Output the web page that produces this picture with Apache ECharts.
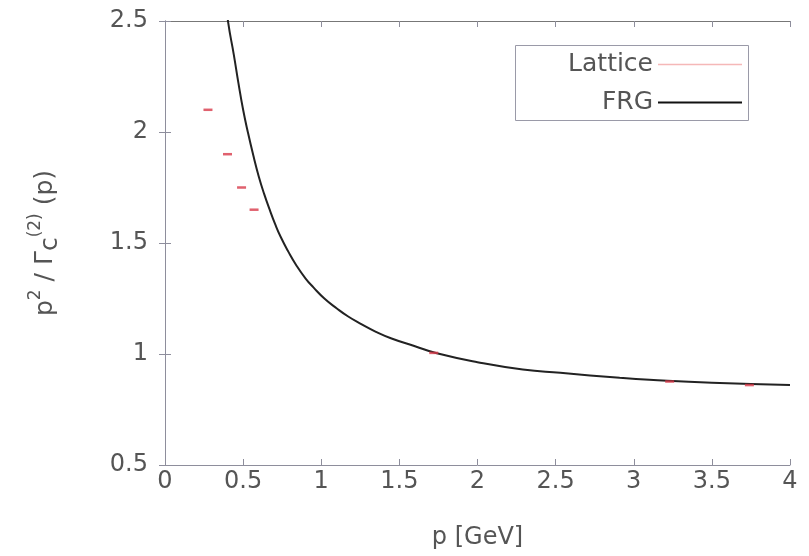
<!DOCTYPE html>
<html>
<head>
<meta charset="utf-8">
<script src="https://cdn.jsdelivr.net/npm/echarts@6/dist/echarts.min.js"></script>
<style>
  html, body { margin: 0; padding: 0; background: #fff; }
  #chart { width: 809px; height: 556px; }
</style>
</head>
<body>
<div id="chart"></div>
<script>
// Momentum grid and FRG ghost dressing function
const frgP = [0.39, 0.405, 0.44, 0.47, 0.50, 0.53, 0.565, 0.60, 0.635, 0.67, 0.705, 0.74, 0.79, 0.84, 0.90, 0.95, 1.02, 1.10, 1.17, 1.25, 1.35, 1.45, 1.60, 1.74, 2.00, 2.29, 2.53, 2.91, 3.10, 3.50, 4.00];
const frgV = [2.59, 2.49, 2.35, 2.22, 2.10, 2.00, 1.895, 1.80, 1.72, 1.65, 1.585, 1.528, 1.46, 1.40, 1.34, 1.30, 1.25, 1.205, 1.17, 1.137, 1.10, 1.07, 1.035, 1.003, 0.963, 0.930, 0.915, 0.893, 0.884, 0.870, 0.860];

// Lattice data points
const latP = [0.275, 0.40, 0.49, 0.57, 1.72, 3.23, 3.74];
const latV = [2.10, 1.90, 1.75, 1.65, 1.005, 0.876, 0.860];

const xTicks = { min: 0, max: 4, interval: 0.5 };
const yTicks = { min: 0.5, max: 2.5, interval: 0.5 };

const pair = (xs, ys) => xs.map((x, i) => [x, ys[i]]);

const FONT = '"DejaVu Sans", sans-serif';
const FS = 24;
const TXT = '#555';
const FRAME = '#8e8e9c';

const chart = echarts.init(document.getElementById('chart'), null, { renderer: 'canvas' });

const tickStyle = { show: true, inside: true, length: 6, lineStyle: { color: FRAME } };

chart.setOption({
  backgroundColor: '#fff',
  animation: false,
  grid: { left: 165, right: 19, top: 21, bottom: 91 },
  graphic: [
    {
      // legend frame
      type: 'rect',
      shape: { x: 515.5, y: 45.5, width: 233, height: 75 },
      style: { fill: '#fff', stroke: '#9a9aa8', lineWidth: 1 },
      z: 10
    }
  ],
  legend: {
    right: 67,
    top: 52,
    orient: 'vertical',
    align: 'right',
    padding: 0,
    itemGap: 13,
    itemWidth: 84,
    itemHeight: 12,
    z: 20,
    textStyle: { fontFamily: FONT, fontSize: 25, color: TXT },
    data: [
      { name: 'Lattice', icon: 'path://M0,5 L84,5 L84,6.6 L0,6.6 Z', itemStyle: { color: '#f2a6a6' } },
      { name: 'FRG', icon: 'path://M0,5 L84,5 L84,7.2 L0,7.2 Z', itemStyle: { color: '#111' } }
    ]
  },
  xAxis: [
    {
      type: 'value', position: 'bottom',
      min: xTicks.min, max: xTicks.max, interval: xTicks.interval,
      name: 'p [GeV]', nameLocation: 'middle', nameGap: 61,
      nameTextStyle: { fontFamily: FONT, fontSize: FS, color: TXT },
      axisLine: { show: true, lineStyle: { color: FRAME } },
      axisTick: tickStyle,
      axisLabel: { fontFamily: FONT, fontSize: FS, color: TXT, margin: 5 },
      splitLine: { show: false }
    },
    {
      type: 'value', position: 'top',
      min: xTicks.min, max: xTicks.max, interval: xTicks.interval,
      axisLine: { show: true, lineStyle: { color: '#777' } },
      axisTick: tickStyle,
      axisLabel: { show: false },
      splitLine: { show: false }
    }
  ],
  yAxis: [
    {
      type: 'value', position: 'left',
      min: yTicks.min, max: yTicks.max, interval: yTicks.interval,
      name: '{b|p}{s|2}{b| / Γ}{c|c}{s|(2)}{b| (p)}',
      nameLocation: 'middle', nameGap: 102,
      nameTextStyle: {
        fontFamily: FONT, fontSize: FS, color: TXT,
        rich: {
          b: { fontFamily: FONT, fontSize: 25, color: TXT, lineHeight: 36, verticalAlign: 'middle' },
          s: { fontFamily: FONT, fontSize: 17, color: TXT, lineHeight: 17, verticalAlign: 'top' },
          c: { fontFamily: FONT, fontSize: 25, color: TXT, lineHeight: 32, verticalAlign: 'bottom' }
        }
      },
      axisLine: { show: true, lineStyle: { color: FRAME } },
      axisTick: tickStyle,
      axisLabel: { fontFamily: FONT, fontSize: FS, color: TXT, margin: 17 },
      splitLine: { show: false }
    },
    {
      type: 'value', position: 'right',
      min: yTicks.min, max: yTicks.max, interval: yTicks.interval,
      axisLine: { show: true, lineStyle: { color: FRAME } },
      axisTick: tickStyle,
      axisLabel: { show: false },
      splitLine: { show: false }
    }
  ],
  series: [
    {
      name: 'Lattice',
      type: 'line',
      xAxisIndex: 0, yAxisIndex: 0,
      data: pair(latP, latV),
      lineStyle: { opacity: 0 },
      symbol: 'rect',
      symbolSize: [9, 2.5],
      itemStyle: { color: '#d83a4a', opacity: 0.8 },
      z: 3
    },
    {
      name: 'FRG',
      type: 'line',
      xAxisIndex: 0, yAxisIndex: 0,
      data: pair(frgP, frgV),
      smooth: 0.5,
      showSymbol: false,
      symbol: 'none',
      clip: true,
      lineStyle: { color: '#222', width: 2 },
      z: 2
    }
  ]
});
</script>
</body>
</html>
